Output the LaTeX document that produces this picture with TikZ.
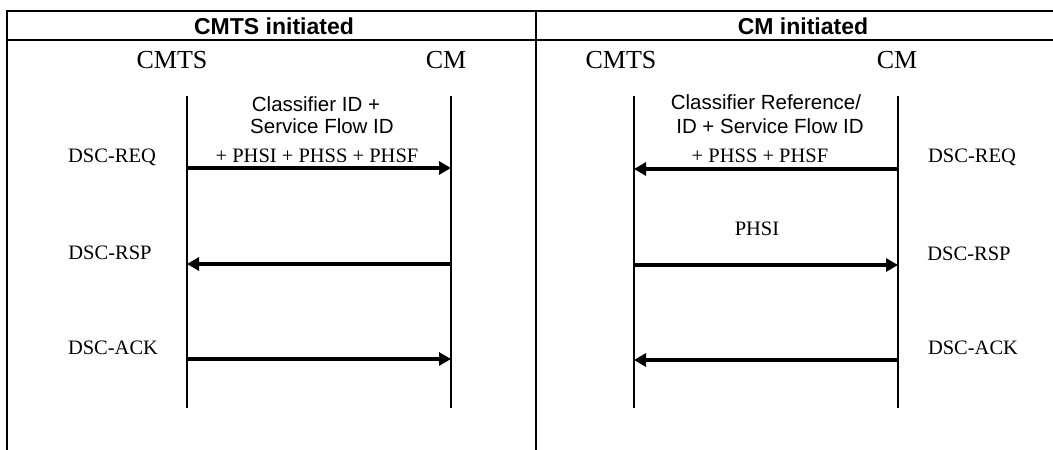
\documentclass[tikz,border=0pt]{standalone}
\usepackage{fontspec}
\setmainfont{Liberation Serif}
\newfontfamily\arialfont{Liberation Sans}
\usetikzlibrary{arrows.meta}
\tikzset{
  frame/.style={line width=2.2pt},
  life/.style={line width=2.2pt},
  msg/.style={line width=3.2pt, -{Triangle[length=12pt,width=13pt]}},
  hdr/.style={font=\arialfont\bfseries\fontsize{23}{26}\selectfont, inner sep=0pt},
  ent/.style={font=\fontsize{26}{30}\selectfont, inner sep=0pt},
  sans/.style={font=\arialfont\fontsize{20.5}{24}\selectfont, inner sep=0pt},
  ser/.style={font=\fontsize{20.5}{24}\selectfont, inner sep=0pt},
}
\begin{document}
\begin{tikzpicture}[x=1pt,y=-1pt]
\useasboundingbox (0,0) rectangle (1053,450);
% table frame
\coordinate (tl) at (7,11);
\coordinate (tr) at (1053,11);
\coordinate (bl) at (7,450);
\coordinate (hl) at (7,40);
\coordinate (hr) at (1053,40);
\coordinate (mt) at (536,11);
\coordinate (mb) at (536,450);
\draw[frame] (bl) -- (tl) -- (tr);
\draw[frame] (hl) -- (hr);
\draw[frame] (mt) -- (mb);
% headers
\node[hdr] (h1) at (274,26) {CMTS initiated};
\node[hdr] (h2) at (803,26) {CM initiated};
% entity labels
\node[ent] (e1) at (172,60) {CMTS};
\node[ent] (e2) at (446,60) {CM};
\node[ent] (e3) at (621,60) {CMTS};
\node[ent] (e4) at (897,60) {CM};
% lifelines
\coordinate (l1t) at (187,96); \coordinate (l1b) at (187,408);
\coordinate (l2t) at (451,96); \coordinate (l2b) at (451,408);
\coordinate (l3t) at (634,96); \coordinate (l3b) at (634,408);
\coordinate (l4t) at (898,96); \coordinate (l4b) at (898,408);
\draw[life] (l1t) -- (l1b);
\draw[life] (l2t) -- (l2b);
\draw[life] (l3t) -- (l3b);
\draw[life] (l4t) -- (l4b);
% left messages
\coordinate (a1s) at (187,168); \coordinate (a1e) at (451,168);
\coordinate (a2s) at (451,264); \coordinate (a2e) at (187,264);
\coordinate (a3s) at (187,359); \coordinate (a3e) at (451,359);
\draw[msg] (a1s) -- (a1e);
\draw[msg] (a2s) -- (a2e);
\draw[msg] (a3s) -- (a3e);
\node[sans] (t1a) at (316,104) {Classifier ID +};
\node[sans] (t1b) at (322,126) {Service Flow ID};
\node[ser] (t2) at (317,156) {+ PHSI + PHSS + PHSF};
\node[ser] (d1) at (112,157) {DSC-REQ};
\node[ser] (d2) at (110,253) {DSC-RSP};
\node[ser] (d3) at (113,348) {DSC-ACK};
% right messages
\coordinate (b1s) at (898,169); \coordinate (b1e) at (634,169);
\coordinate (b2s) at (634,265); \coordinate (b2e) at (898,265);
\coordinate (b3s) at (898,360); \coordinate (b3e) at (634,360);
\draw[msg] (b1s) -- (b1e);
\draw[msg] (b2s) -- (b2e);
\draw[msg] (b3s) -- (b3e);
\node[sans] (t3a) at (766,102) {Classifier Reference/};
\node[sans] (t3b) at (770,126) {ID + Service Flow ID};
\node[ser] (t4) at (760,156) {+ PHSS + PHSF};
\node[ser] (t5) at (757,229) {PHSI};
\node[ser] (d4) at (972,157) {DSC-REQ};
\node[ser] (d5) at (969,254) {DSC-RSP};
\node[ser] (d6) at (973,348) {DSC-ACK};
\end{tikzpicture}
\end{document}
